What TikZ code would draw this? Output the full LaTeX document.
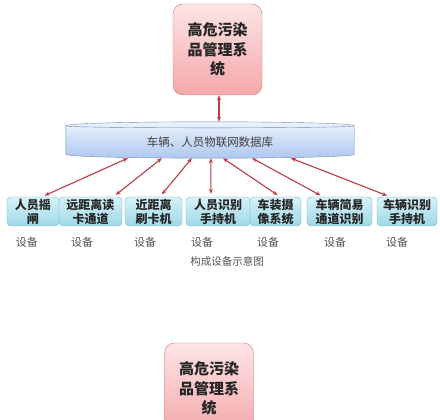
\documentclass[tikz,border=0pt]{standalone}
\usepackage{fontspec}
\setmainfont{Noto Sans CJK SC}
\usetikzlibrary{positioning, calc, backgrounds, arrows.meta}

\definecolor{sysline}{RGB}{200,120,125}
\definecolor{systop}{RGB}{253,228,230}
\definecolor{sysbot}{RGB}{244,168,170}
\definecolor{dbline}{RGB}{120,138,175}
\definecolor{dbtop}{RGB}{238,244,253}
\definecolor{dbbot}{RGB}{172,198,240}
\definecolor{devline}{RGB}{118,178,198}
\definecolor{devtop}{RGB}{215,242,248}
\definecolor{devbot}{RGB}{158,216,232}
\definecolor{linkred}{RGB}{185,60,70}
\definecolor{taggray}{RGB}{85,85,85}

\tikzset{
    x=1pt, y=-1pt, % pixel coordinates, y going down
    sysbox/.style={draw=sysline, rounded corners=10pt, top color=systop, bottom color=sysbot,
        minimum width=89pt, minimum height=91pt, inner sep=0pt, align=center, text=black!85,
        font=\bfseries\fontsize{15}{19.5}\selectfont},
    devbox/.style={draw=devline, rounded corners=4pt, top color=devtop, bottom color=devbot,
        minimum height=29pt, inner sep=0pt, align=center, text=black!85,
        font=\bfseries\fontsize{12}{14}\selectfont},
    link/.style={{Stealth[length=5pt,width=4pt]}-{Stealth[length=5pt,width=4pt]}, draw=linkred, line width=1.1pt},
    tag/.style={text=taggray, font=\fontsize{11}{13}\selectfont},
}

\begin{document}
\begin{tikzpicture}
    \clip (0,0) rectangle (440,420);

    % management system and database
    \node[sysbox] (sys) at (217.5,49.5) {高危污染\\品管理系\\统};
    \node[minimum width=288pt, minimum height=36pt, inner sep=0pt, text height=14pt, text depth=0pt,
          text=black!75, font=\fontsize{11.5}{13}\selectfont] (db) at (210,140) {车辆、人员物联网数据库};
    \begin{scope}[on background layer]
        \path[draw=dbline, top color=dbtop, bottom color=dbbot]
            ($(db.north west)+(0,4)$) -- ($(db.south west)+(0,-4)$)
            .. controls ($(db.south west)+(0,1.3)$) and ($(db.south east)+(0,1.3)$) .. ($(db.south east)+(0,-4)$)
            -- ($(db.north east)+(0,4)$)
            .. controls ($(db.north east)+(0,-1.3)$) and ($(db.north west)+(0,-1.3)$) .. ($(db.north west)+(0,4)$)
            -- cycle;
        \draw[dbline] ($(db.north west)+(0,4)$)
            .. controls ($(db.north west)+(0,6.7)$) and ($(db.north east)+(0,6.7)$) .. ($(db.north east)+(0,4)$);
    \end{scope}

    % devices
    \node[devbox, minimum width=52pt] (gate)   at (33,211.5)    {人员摇\\闸};
    \node[devbox, minimum width=63pt] (farcard) at (90.5,211.5) {远距离读\\卡通道};
    \node[devbox, minimum width=57pt] (nearcard) at (153.5,211.5) {近距离\\刷卡机};
    \node[devbox, minimum width=64pt] (phand)  at (218,211.5)   {人员识别\\手持机};
    \node[devbox, minimum width=51pt] (camera) at (275.5,211.5) {车装摄\\像系统};
    \node[devbox, minimum width=65pt] (lane)   at (339.5,211.5) {车辆简易\\通道识别};
    \node[devbox, minimum width=60pt] (vhand)  at (407,211.5)   {车辆识别\\手持机};

    \node[tag] (t1) at (27,242)  {设备};
    \node[tag] (t2) at (82,242)  {设备};
    \node[tag] (t3) at (145,242) {设备};
    \node[tag] (t4) at (202,242) {设备};
    \node[tag] (t5) at (268,242) {设备};
    \node[tag] (t6) at (335,242) {设备};
    \node[tag] (t7) at (397,242) {设备};
    \node[tag, font=\fontsize{10.5}{12}\selectfont] (caption) at (227,261) {构成设备示意图};

    % links
    \coordinate (sysfoot) at ($(sys.south)+(1.5,0)$);
    \draw[link] (sysfoot) -- (sysfoot |- db.north);
    \draw[link, shorten >=3pt] ($(db.south west)!.215!(db.south east)$) -- ($(gate.north west)!.67!(gate.north east)$);
    \draw[link, shorten >=3pt] ($(db.south west)!.333!(db.south east)$) -- ($(farcard.north west)!.86!(farcard.north east)$);
    \draw[link, shorten >=3pt] ($(db.south west)!.437!(db.south east)$) -- ($(nearcard.north west)!.61!(nearcard.north east)$);
    \draw[link, shorten >=3pt] ($(db.south west)!.503!(db.south east)$) -- ($(phand.north west)!.39!(phand.north east)$);
    \draw[link, shorten >=3pt] ($(db.south west)!.545!(db.south east)$) -- ($(camera.north west)!.59!(camera.north east)$);
    \draw[link, shorten >=3pt] ($(db.south west)!.646!(db.south east)$) -- ($(lane.north west)!.25!(lane.north east)$);
    \draw[link, shorten >=3pt] ($(db.south west)!.781!(db.south east)$) -- ($(vhand.north west)!.22!(vhand.north east)$);

    % second copy of the system box, cut by the lower edge
    \node[sysbox] (sys2) at (209,388.5) {高危污染\\品管理系\\统};
\end{tikzpicture}
\end{document}
